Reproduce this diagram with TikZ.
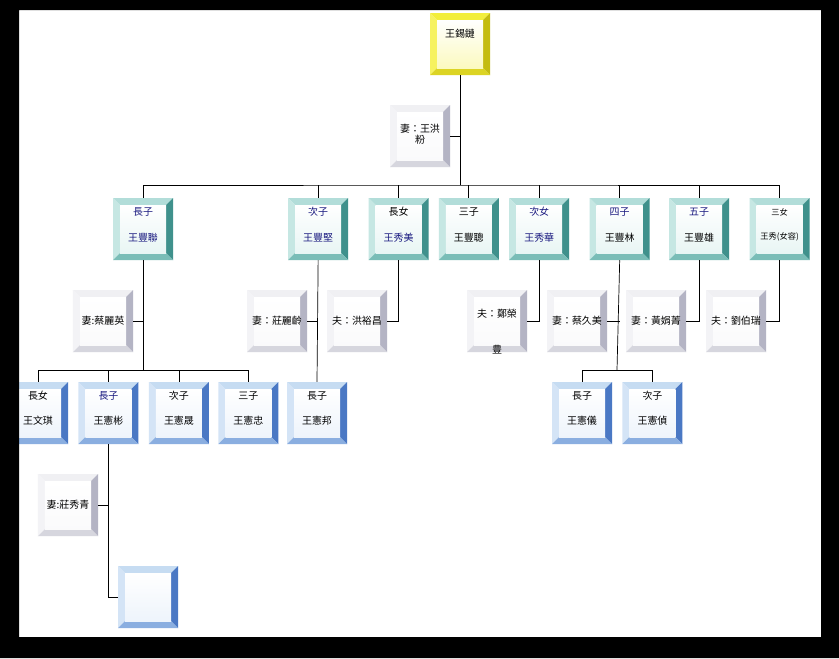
\documentclass[tikz,border=0pt]{standalone}
\usepackage{fontspec}
\newfontfamily\cjk{Noto Sans CJK TC}
\usetikzlibrary{positioning}

\definecolor{navy}{HTML}{1A1A80}
% bevel colours: T top, L left, R right, B bottom
\definecolor{gdT}{HTML}{F2EE3C}\definecolor{gdL}{HTML}{F6F260}
\definecolor{gdR}{HTML}{C4BC10}\definecolor{gdB}{HTML}{DCD424}
\definecolor{kdT}{HTML}{B2DDD9}\definecolor{kdL}{HTML}{C6E7E3}
\definecolor{kdR}{HTML}{3F918C}\definecolor{kdB}{HTML}{7ABDB7}
\definecolor{gkT}{HTML}{C6DCF2}\definecolor{gkL}{HTML}{D4E4F6}
\definecolor{gkR}{HTML}{4A78C4}\definecolor{gkB}{HTML}{8AAEE0}
\definecolor{spT}{HTML}{F0F0F3}\definecolor{spL}{HTML}{F3F3F6}
\definecolor{spR}{HTML}{B4B4C4}\definecolor{spB}{HTML}{D6D6DE}

\def\bw{0.21cm}
\newcommand{\kin}[2]{\parbox[t]{1.6cm}{\centering #1\\[12pt]#2}}

\tikzset{
  bvset/.code={\def\bvT{#1T}\def\bvL{#1L}\def\bvR{#1R}\def\bvB{#1B}},
  bevel/.style={rectangle, inner sep=0pt, minimum width=1.8cm, minimum height=1.86cm,
    font=\cjk\fontsize{8.5}{10}\selectfont,
    path picture={
      \fill[fill=\bvT] (path picture bounding box.north west) -- (path picture bounding box.north east)
        -- ([shift={(-\bw,-\bw)}]path picture bounding box.north east)
        -- ([shift={(\bw,-\bw)}]path picture bounding box.north west) -- cycle;
      \fill[fill=\bvL] (path picture bounding box.north west) -- ([shift={(\bw,-\bw)}]path picture bounding box.north west)
        -- ([shift={(\bw,\bw)}]path picture bounding box.south west)
        -- (path picture bounding box.south west) -- cycle;
      \fill[fill=\bvR] (path picture bounding box.north east) -- (path picture bounding box.south east)
        -- ([shift={(-\bw,\bw)}]path picture bounding box.south east)
        -- ([shift={(-\bw,-\bw)}]path picture bounding box.north east) -- cycle;
      \fill[fill=\bvB] (path picture bounding box.south west) -- (path picture bounding box.south east)
        -- ([shift={(-\bw,\bw)}]path picture bounding box.south east)
        -- ([shift={(\bw,\bw)}]path picture bounding box.south west) -- cycle;
      \shade[top color=white, bottom color=\bvL!40!white]
        ([shift={(\bw,-\bw)}]path picture bounding box.north west)
        rectangle ([shift={(-\bw,\bw)}]path picture bounding box.south east);
    }},
  gold/.style={bevel, bvset=gd, text height=0.3cm, text depth=0.69cm},
  kid/.style={bevel, bvset=kd, text height=0.3cm, text depth=1.1cm},
  grand/.style={bevel, bvset=gk, text height=0.3cm, text depth=1.14cm},
  mate/.style={bevel, bvset=sp},
  link/.style={line width=0.6pt}
}

\begin{document}
\begin{tikzpicture}[x=0.03cm, y=-0.03cm]
\fill[white] (0,0) rectangle (839,658);

% top
\node[gold] (root) at (460,44) {王錫鏈};
\node[mate, text height=0.3cm, text depth=0.54cm] (w0) at (420,136) {\parbox[t]{1.6cm}{\centering 妻：王洪\\粉}};

% children
\node[kid] (k1) at (143,229) {\kin{\textcolor{navy}{長子}}{\textcolor{navy}{王豐聯}}};
\node[kid, right=3.44cm of k1] (k2) {\kin{\textcolor{navy}{次子}}{\textcolor{navy}{王豐堅}}};
\node[kid, right=0.6cm of k2] (k3) {\kin{長女}{\textcolor{navy}{王秀美}}};
\node[kid, right=0.29cm of k3] (k4) {\kin{三子}{王豐聰}};
\node[kid, right=0.3cm of k4] (k5) {\kin{\textcolor{navy}{次女}}{\textcolor{navy}{王秀華}}};
\node[kid, right=0.6cm of k5] (k6) {\kin{\textcolor{navy}{四子}}{王豐林}};
\node[kid, right=0.57cm of k6] (k7) {\kin{\textcolor{navy}{五子}}{王豐雄}};
\node[kid, right=0.6cm of k7] (k8) {\kin{\fontsize{7}{8}\selectfont 三女}{\fontsize{7}{8}\selectfont 王秀(女容)}};

% spouses
\node[mate] (w1) at (103,321) {妻:蔡麗英};
\node[mate] (w2) at (277,321) {妻：莊麗齡};
\node[mate] (h3) at (357,321) {夫：洪裕昌};
\node[mate, text height=0.3cm, text depth=0.54cm] (h5) at (497,321) {\parbox[t]{1.6cm}{\centering 夫：鄭榮\\[21pt]豊}};
\node[mate] (w6) at (577,321) {妻：蔡久美};
\node[mate] (w7) at (656,321) {妻：黃娟菁};
\node[mate] (h8) at (736,321) {夫：劉伯瑞};

% grandchildren
\node[grand] (g1) at (38,413) {\kin{長女}{王文琪}};
\node[grand, right=0.3cm of g1] (g2) {\kin{\textcolor{navy}{長子}}{王憲彬}};
\node[grand, right=0.3cm of g2] (g3) {\kin{次子}{王憲晟}};
\node[grand, right=0.27cm of g3] (g4) {\kin{三子}{王憲忠}};
\node[grand] (g5) at (317,413) {\kin{長子}{王憲邦}};
\node[grand] (g6) at (582,413) {\kin{長子}{王憲儀}};
\node[grand, right=0.3cm of g6] (g7) {\kin{次子}{王憲偵}};

\node[mate] (w9) at (68,505) {妻:莊秀青};
\node[grand] (e1) at (148,597) {};

% lines
\coordinate (bus) at (460,185);
\draw[link] (root) -- (bus);
\draw[link] (w0.east) -- (w0.east -| root.south);
\draw[link] (k1.north) |- (bus) -| (k8.north);
\foreach \k in {k2,k3,k4,k5,k6,k7}
  \draw[link] (\k.north) -- (\k.north |- bus);

\coordinate (bus1) at (143,370);
\draw[link] (k1.south) -- (bus1);
\draw[link] (w1.east) -- (w1.east -| k1.south);
\draw[link] (g1.north) |- (bus1) -| (g4.north);
\foreach \g in {g2,g3}
  \draw[link] (\g.north) -- (\g.north |- bus1);

\draw[link] (k2.south) -- (g5.north);
\draw[link] (w2.east) -- (w2.east -| k2.south);
\draw[link] (k3.south) |- (h3.east);
\draw[link] (k5.south) |- (h5.east);

\coordinate (bus6) at (617,370);
\draw[link] (k6.south) -- (bus6);
\draw[link] (w6.east) -- (w6.east -| k6.south);
\draw[link] (g6.north) |- (bus6) -| (g7.north);
\draw[link] (k7.south) |- (w7.east);
\draw[link] (k8.south) |- (h8.east);

\draw[link] (g2.south) |- (e1.west);
\draw[link] (w9.east) -- (w9.east -| g2.south);

% frame
\fill[black, even odd rule] (0,0) rectangle (839,658) (19,10) rectangle (821,637);
\end{tikzpicture}
\end{document}
